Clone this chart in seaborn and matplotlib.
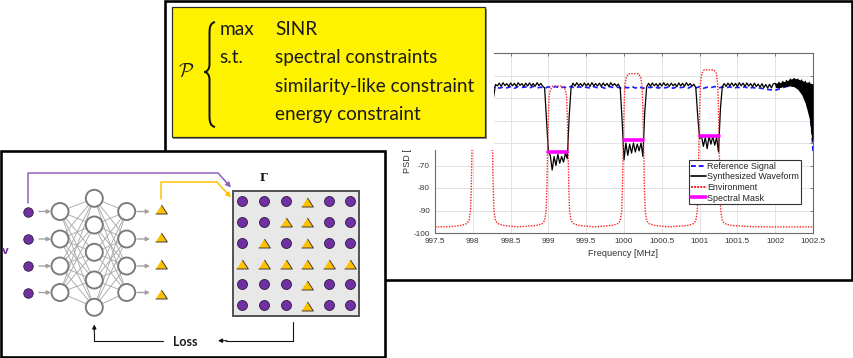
import numpy as np
import pandas as pd
import matplotlib
matplotlib.use("Agg")
import matplotlib.pyplot as plt
import seaborn as sns
from matplotlib.patches import Rectangle, Circle, PathPatch
from matplotlib.path import Path
from matplotlib.lines import Line2D

# ---------------- data ----------------
# Synthesized waveform, piecewise segments on a 0.025 MHz grid: (start MHz, PSD dB)
black_pass1 = [-41.0, -35.8,
               -33.6, -34.8, -33.4, -34.6, -33.7, -34.9, -33.5, -34.7, -33.3, -34.5,
               -33.6, -34.8, -33.4, -34.6, -33.7, -34.9, -33.5, -34.7, -33.3, -34.5,
               -33.6, -34.8, -33.4, -34.6, -33.7, -34.9, -33.5, -34.7, -33.3, -39.5,
               -34.0, -34.6, -33.4, -34.8, -33.2, -34.5, -33.6, -34.9, -33.3, -34.6,
               -33.5, -34.8, -33.2, -34.4, -33.6, -34.9, -33.4, -34.7, -33.3, -34.6,
               -33.6, -34.8, -33.2, -34.5, -33.5, -34.8]
black_notch999 = [-35.5, -50.0, -64.0, -65.5, -72.0, -66.0, -70.0, -65.0, -69.0, -66.0,
                  -68.5, -64.5, -67.0, -48.0, -35.5]
black_pass2 = [-33.4, -34.7, -33.2, -34.5, -33.6, -34.8, -33.3, -34.6, -33.5, -34.9,
               -33.2, -34.5, -33.6, -34.7, -33.4, -34.8, -33.3, -34.6, -33.5, -34.9,
               -33.2, -34.5, -33.6, -34.7, -33.8]
black_notch1000 = [-35.5, -50.0, -67.5, -60.0, -65.5, -60.5, -64.5, -60.0, -64.0, -60.5,
                   -63.5, -60.0, -66.0, -46.0, -35.0]
black_pass3 = [-33.5, -34.8, -33.3, -34.6, -33.6, -34.9, -33.4, -34.7, -33.2, -34.5,
               -33.6, -34.8, -33.4, -34.6, -33.7, -34.9, -33.3, -34.6, -33.5, -34.8,
               -33.2, -34.5, -33.6, -34.7, -33.9]
black_notch1001 = [-35.5, -48.0, -58.0, -57.0, -61.5, -57.5, -62.5, -57.0, -60.5, -57.0,
                   -61.0, -57.5, -64.0, -45.0, -35.0]
black_pass4 = [-33.6, -34.8, -33.4, -34.6, -33.3, -34.7, -33.5, -34.9, -33.2, -34.6,
               -33.4, -34.8, -33.3, -34.7, -33.6, -35.0, -33.4, -34.9, -33.8, -35.2,
               -33.6, -35.4, -34.0, -35.6, -33.9, -35.5, -33.7]
black_edge = [-33.5, -35.5, -33.0, -35.3, -32.6, -35.0, -32.2, -34.8, -31.6, -34.6,
              -31.3, -35.0, -31.6, -36.5, -32.0, -39.0, -32.6, -44.0, -33.0, -52.0, -59.0]
black_segments = [(997.5, black_pass1), (998.95, black_notch999), (999.325, black_pass2),
                  (999.95, black_notch1000), (1000.325, black_pass3),
                  (1000.95, black_notch1001), (1001.325, black_pass4), (1002.0, black_edge)]
# dense ripple band at the upper band edge (envelopes)
band_freq = [1002.0, 1002.05, 1002.1, 1002.15, 1002.2, 1002.25, 1002.3, 1002.35, 1002.4, 1002.45, 1002.5]
band_upper = [-33.4, -33.2, -32.8, -32.4, -31.6, -31.2, -31.6, -32.2, -32.8, -33.2, -33.8]
band_lower = [-35.2, -35.4, -35.0, -34.8, -34.6, -35.0, -36.2, -38.5, -42.5, -49.0, -59.0]

# Reference signal, 0.05 MHz grid from 997.5 to 1002.5
blue_start, blue_step = 997.5, 0.05
blue_psd = [-35.0, -35.6, -34.9, -35.4, -35.1, -35.7, -34.8, -35.3, -35.2, -35.6,
            -34.9, -35.5, -35.1, -35.7, -34.8, -35.4, -35.0, -35.6, -35.2, -35.5,
            -35.0, -35.7, -34.9, -35.3, -35.1, -35.6, -34.8, -35.5, -35.2, -35.7,
            -35.0, -35.4, -34.9, -35.6, -35.1, -35.5, -34.8, -35.7, -35.0, -35.4,
            -35.2, -35.6, -34.9, -35.5, -35.1, -35.7, -34.9, -35.3, -35.0, -35.6,
            -35.1, -35.5, -34.8, -35.6, -35.0, -35.7, -35.1, -35.4, -34.9, -35.6,
            -35.2, -35.5, -34.9, -35.7, -35.0, -35.4, -35.1, -35.6, -34.8, -35.5,
            -35.0, -35.7, -35.2, -35.4, -34.9, -35.6, -35.1, -35.5, -35.0, -35.7,
            -35.2, -35.6, -35.0, -35.8, -35.3, -35.7, -35.6, -35.9, -36.2, -36.4,
            -36.6, -36.0, -35.4, -34.9, -34.6, -34.7, -35.0, -35.3, -35.6, -36.2, -64.0]

# Environment (frequency MHz, PSD dB)
env_freq = [997.5, 997.7, 997.85, 997.92, 997.95, 997.97, 997.98, 997.99, 998.0, 998.01,
            998.03, 998.06, 998.19, 998.22, 998.24, 998.25, 998.26, 998.27, 998.28, 998.3,
            998.33, 998.4, 998.6, 998.85, 998.92, 998.95, 998.97, 998.98, 998.99, 999.0,
            999.01, 999.03, 999.06, 999.19, 999.22, 999.24, 999.25, 999.26, 999.27, 999.28,
            999.3, 999.33, 999.4, 999.6, 999.85, 999.92, 999.95, 999.97, 999.98, 999.99,
            1000.0, 1000.01, 1000.03, 1000.06, 1000.19, 1000.22, 1000.24, 1000.25, 1000.26,
            1000.27, 1000.28, 1000.3, 1000.33, 1000.4, 1000.6, 1000.85, 1000.92, 1000.95,
            1000.97, 1000.98, 1000.99, 1001.0, 1001.01, 1001.03, 1001.06, 1001.19, 1001.22,
            1001.24, 1001.25, 1001.26, 1001.27, 1001.28, 1001.3, 1001.33, 1001.4, 1001.7,
            1002.0, 1002.5]
env_psd = [-97.3, -97.2, -96.6, -95.8, -94.5, -90.0, -80.0, -62.0, -45.0, -36.0,
           -31.5, -30.0, -30.0, -31.5, -36.0, -45.0, -62.0, -80.0, -90.0, -94.5,
           -95.8, -96.6, -97.3, -96.6, -95.8, -94.5, -90.0, -80.0, -62.0, -48.0,
           -39.0, -36.2, -34.7, -34.7, -36.2, -39.0, -48.0, -62.0, -80.0, -90.0,
           -94.5, -95.8, -96.6, -97.3, -96.6, -95.8, -94.5, -90.0, -80.0, -62.0,
           -45.0, -35.0, -30.7, -29.2, -29.2, -30.7, -35.0, -45.0, -62.0,
           -80.0, -90.0, -94.5, -95.8, -96.6, -97.3, -96.6, -95.8, -94.5,
           -90.0, -80.0, -62.0, -45.0, -34.0, -29.0, -27.5, -27.5, -29.0,
           -34.0, -45.0, -62.0, -80.0, -90.0, -94.5, -95.8, -96.6, -97.2,
           -97.3, -97.3]

# Spectral mask segments
mask_lo = [999.0, 1000.0, 1001.0]
mask_hi = [999.25, 1000.25, 1001.25]
mask_level = [-64.0, -58.6, -57.0]

x_ticks = [997.5, 998, 998.5, 999, 999.5, 1000, 1000.5, 1001, 1001.5, 1002, 1002.5]
x_ticklabels = ["997.5", "998", "998.5", "999", "999.5", "1000", "1000.5", "1001", "1001.5", "1002", "1002.5"]
y_ticks = [-100, -90, -80, -70, -60, -50, -40, -30, -20]
# labels above -70 are hidden behind the pasted formula box in the reference
y_ticklabels = ["-100", "-90", "-80", "-70", "", "", "", "", ""]
legend_labels = ["Reference Signal", "Synthesized Waveform", "Environment", "Spectral Mask"]

problem_lines = [("max", "SINR"), ("s.t.", "spectral constraints"), ("", "similarity-like constraint"), ("", "energy constraint")]

# Γ matrix pattern: C = circle, T = triangle
gamma_rows = ["CCCTCC", "CCTTCC", "CTCTCC", "TTTTTT", "CCCTCC", "CCCTCC"]
layer_sizes = [4, 5, 4]

# ---------------- figure ----------------
sns.set_theme(style="white")
plt.rcParams["font.family"] = ["Liberation Sans", "DejaVu Sans"]
plt.rcParams["mathtext.fontset"] = "cm"

W, H = 854, 358
fig = plt.figure(figsize=(W / 100, H / 100), dpi=100)
fig.patch.set_facecolor("white")


def pt(v):
    return v * 0.72


ax = fig.add_axes([435 / W, 1 - 233 / H, (813 - 435) / W, (233 - 53) / H])
ax.set_facecolor("white")

bf, bp = [], []
for start, vals in black_segments:
    bf.extend(np.round(start + 0.025 * np.arange(len(vals)), 4))
    bp.extend(vals)
black_df = pd.DataFrame({"f": bf, "psd": bp})
blue_df = pd.DataFrame({"f": np.round(blue_start + blue_step * np.arange(len(blue_psd)), 4), "psd": blue_psd})
env_df = pd.DataFrame({"f": env_freq, "psd": env_psd})
mask_df = pd.DataFrame({
    "f": [v for pair in zip(mask_lo, mask_hi) for v in pair],
    "psd": [v for lvl in mask_level for v in (lvl, lvl)],
    "seg": [k for k in range(len(mask_lo)) for _ in range(2)],
})

sns.lineplot(data=blue_df, x="f", y="psd", ax=ax, color="#1a1aff", lw=1.2,
             linestyle=(0, (3, 2)), estimator=None, legend=False, zorder=3)
sns.lineplot(data=black_df, x="f", y="psd", ax=ax, color="black", lw=0.9,
             estimator=None, legend=False, zorder=4)
ax.fill_between(band_freq, band_lower, band_upper, color="black", lw=0, zorder=4)
sns.lineplot(data=env_df, x="f", y="psd", ax=ax, color="#ff2020", lw=1.0,
             linestyle=(0, (1, 1)), estimator=None, legend=False, zorder=5)
sns.lineplot(data=mask_df, x="f", y="psd", units="seg", ax=ax, color="#ff00ff", lw=2.6,
             estimator=None, legend=False, zorder=6)

ax.set_xlim(997.5, 1002.5)
ax.set_ylim(-100, -20)
ax.set_xticks(x_ticks)
ax.set_xticklabels(x_ticklabels)
ax.set_yticks(y_ticks)
ax.set_yticklabels(y_ticklabels)
ax.set_xlabel("")
ax.set_ylabel("")
ax.grid(True, color="#e3e3e3", lw=0.7)
ax.set_axisbelow(True)
for s in ax.spines.values():
    s.set_color("#6a6a6a")
    s.set_linewidth(0.8)
ax.tick_params(axis="both", direction="in", length=2.5, width=0.6, color="#6a6a6a",
               labelsize=5.9, labelcolor="#333333", top=True, right=True, pad=3.5)

handles = [Line2D([], [], color="#1a1aff", lw=1.4, linestyle=(0, (2.5, 1.5))),
           Line2D([], [], color="black", lw=1.2),
           Line2D([], [], color="#ff2020", lw=1.4, linestyle=(0, (1, 0.6))),
           Line2D([], [], color="#ff00ff", lw=2.6)]
leg = ax.legend(handles, legend_labels, loc="upper left",
                bbox_to_anchor=(689.5 / W, 1 - 160 / H), bbox_transform=fig.transFigure,
                borderaxespad=0, fontsize=6.4, frameon=True, fancybox=False,
                edgecolor="#333333", framealpha=1, handlelength=1.65, handletextpad=0.15,
                borderpad=0.2, labelspacing=0.18)
leg.get_frame().set_linewidth(0.8)
for t in leg.get_texts():
    t.set_color("#222222")

fig.text(623 / W, 1 - 253 / H, "Frequency [MHz]", ha="center", va="center",
         fontsize=6.6, color="#333333")

# ---------------- overlay (pixel coordinates) ----------------
ov = fig.add_axes([0, 0, 1, 1], zorder=10)
ov.set_xlim(0, W)
ov.set_ylim(H, 0)
ov.axis("off")
ov.patch.set_alpha(0)

ov.text(408, 173, "PSD [dB/Hz]", rotation=90, rotation_mode="anchor", ha="left",
        va="center", fontsize=6.6, color="#333333", zorder=0.5)
ov.add_patch(Rectangle((166, 2.5), 494 - 166, 150 - 2.5, fc="white", ec="none", zorder=1))

# yellow problem box
ov.add_patch(Rectangle((173.5, 8.5), 313.3, 130, fc="#8a8a8a", ec="none", zorder=2))
ov.add_patch(Rectangle((171.7, 6.7), 313.3, 130, fc="#FFF200", ec="#2a2a2a", lw=pt(1.2), zorder=3))
baselines = [35, 63.3, 91.7, 120]
txts = []
for (kw, body), yb in zip(problem_lines, baselines):
    if kw:
        txts.append(ov.text(219.5, yb, kw, fontsize=11, family=["Lato", "DejaVu Sans"],
                            color="#1a1a1a", va="baseline", ha="left", zorder=4))
    txts.append(ov.text(275, yb, body, fontsize=11, family=["Lato", "DejaVu Sans"],
                        color="#1a1a1a", va="baseline", ha="left", zorder=4))
fig.canvas.draw()
longest = max(txts, key=lambda t: t.get_window_extent().width)
scale = 200.0 / longest.get_window_extent().width
for t in txts:
    t.set_fontsize(11 * scale)
ov.text(186.5, 72, r"$\mathcal{P}$", fontsize=14, ha="center", va="center", color="#1a1a1a", zorder=4)

brace = Path([(215, 22), (210.5, 23), (209.5, 27), (209.5, 33),
              (209.5, 64),
              (209.5, 69), (207.5, 71.5), (204.5, 72),
              (207.5, 72.5), (209.5, 75), (209.5, 80),
              (209.5, 116),
              (209.5, 122), (210.5, 126), (215, 127)],
             [Path.MOVETO, Path.CURVE4, Path.CURVE4, Path.CURVE4,
              Path.LINETO,
              Path.CURVE4, Path.CURVE4, Path.CURVE4,
              Path.CURVE4, Path.CURVE4, Path.CURVE4,
              Path.LINETO,
              Path.CURVE4, Path.CURVE4, Path.CURVE4])
ov.add_patch(PathPatch(brace, fc="none", ec="#111111", lw=pt(2.0), zorder=4))

# panel borders
ov.add_patch(Rectangle((165, 1.3), 687, 278.7, fc="none", ec="black", lw=pt(2.6), zorder=6))
ov.add_patch(Rectangle((1.5, 151), 383.5, 206, fc="white", ec="black", lw=pt(2.6), zorder=7))

# neural network
layer_x = [60, 94.3, 126.7]
layer_y = [[211.5, 239, 266, 292.5], [198.3, 225, 252.3, 280, 307.3], [211.5, 239, 266, 292.5]]
for a in range(len(layer_sizes) - 1):
    for y1 in layer_y[a]:
        for y2 in layer_y[a + 1]:
            ov.add_line(Line2D([layer_x[a], layer_x[a + 1]], [y1, y2], color="#a9a9a9",
                               lw=pt(0.9), zorder=8))
for x, ys in zip(layer_x, layer_y):
    for y in ys:
        ov.add_patch(Circle((x, y), 8.5, fc="white", ec="#7a7a7a", lw=pt(1.9), zorder=9))

purple = "#7030A0"
gold = "#FFC000"
tri = [(-1, -0.77), (1, -0.77), (0, 0.77)]
in_y = [211.5, 239, 266, 292.5]
out_y = [208.5, 237, 264, 294]
ov.scatter([27.7] * 4, in_y, s=pt(9.5) ** 2, c=purple, edgecolors="#2b1742",
           linewidths=pt(0.8), zorder=9)
ov.scatter([161] * 4, out_y, s=pt(11.7) ** 2, c=gold, marker=tri, edgecolors="#333333",
           linewidths=pt(0.9), zorder=9)
for y in in_y:
    ov.annotate("", xy=(51, y), xytext=(39, y),
                arrowprops=dict(arrowstyle="-|>", color="#a0a0a0", lw=pt(1.3),
                                mutation_scale=6, shrinkA=0, shrinkB=0), zorder=9)
for y in in_y:
    ov.annotate("", xy=(150, y), xytext=(137, y),
                arrowprops=dict(arrowstyle="-|>", color="#a0a0a0", lw=pt(1.3),
                                mutation_scale=6, shrinkA=0, shrinkB=0), zorder=9)
ov.text(5.5, 251.5, "v", color=purple, fontsize=7.5, fontweight="bold",
        family="DejaVu Sans", ha="center", va="center", zorder=9)

# feed arrows to Γ
ov.add_line(Line2D([27.7, 27.7, 218.3], [203, 173.3, 173.3], color="#8e5fbf", lw=pt(1.5), zorder=9))
ov.annotate("", xy=(231, 187.5), xytext=(218.3, 173.3),
            arrowprops=dict(arrowstyle="-|>", color="#8e5fbf", lw=pt(1.5),
                            mutation_scale=7, shrinkA=0, shrinkB=0), zorder=9)
ov.add_line(Line2D([161, 161, 216.7], [199, 181.7, 181.7], color=gold, lw=pt(1.5), zorder=9))
ov.annotate("", xy=(231, 197.5), xytext=(216.7, 181.7),
            arrowprops=dict(arrowstyle="-|>", color=gold, lw=pt(1.5),
                            mutation_scale=7, shrinkA=0, shrinkB=0), zorder=9)
ov.text(263.5, 177.5, "Γ", family="DejaVu Serif", fontweight="bold", fontsize=8,
        ha="center", va="center", color="#111111", zorder=9)

# Γ matrix
ov.add_patch(Rectangle((233.3, 190.7), 126, 125.3, fc="#e8e8e8", ec="#555555", lw=pt(2.0), zorder=8))
col_x = [242.3, 264, 285.7, 307.3, 329, 350]
row_y = [201, 221.7, 242.7, 263.3, 284.3, 305]
cx, cy, tx, ty = [], [], [], []
for r, row in enumerate(gamma_rows):
    for c, ch in enumerate(row):
        if ch == "C":
            cx.append(col_x[c]); cy.append(row_y[r])
        else:
            tx.append(col_x[c]); ty.append(row_y[r] + 0.5)
ov.scatter(cx, cy, s=pt(10) ** 2, c=purple, edgecolors="#2b1742", linewidths=pt(0.8), zorder=9)
ov.scatter(tx, ty, s=pt(11.7) ** 2, c=gold, marker=tri, edgecolors="#333333",
           linewidths=pt(0.9), zorder=9)

# loss loop
ov.add_line(Line2D([292.7, 292.7, 226], [321.7, 340.7, 340.7], color="#111111", lw=pt(1.1), zorder=9))
ov.annotate("", xy=(218, 340.7), xytext=(227, 340.7),
            arrowprops=dict(arrowstyle="-|>", color="#111111", lw=pt(1.1),
                            mutation_scale=6, shrinkA=0, shrinkB=0), zorder=9)
ov.add_line(Line2D([163.3, 94.3, 94.3], [341, 341, 333], color="#111111", lw=pt(1.1), zorder=9))
ov.annotate("", xy=(94.3, 324.5), xytext=(94.3, 333),
            arrowprops=dict(arrowstyle="-|>", color="#111111", lw=pt(1.1),
                            mutation_scale=6, shrinkA=0, shrinkB=0), zorder=9)
ov.text(185, 342.3, "Loss", family=["Lato", "DejaVu Sans"], fontweight="bold", fontsize=9,
        ha="center", va="center", color="#1a1a1a", zorder=9)

fig.savefig("out.png", dpi=100, facecolor="white")
